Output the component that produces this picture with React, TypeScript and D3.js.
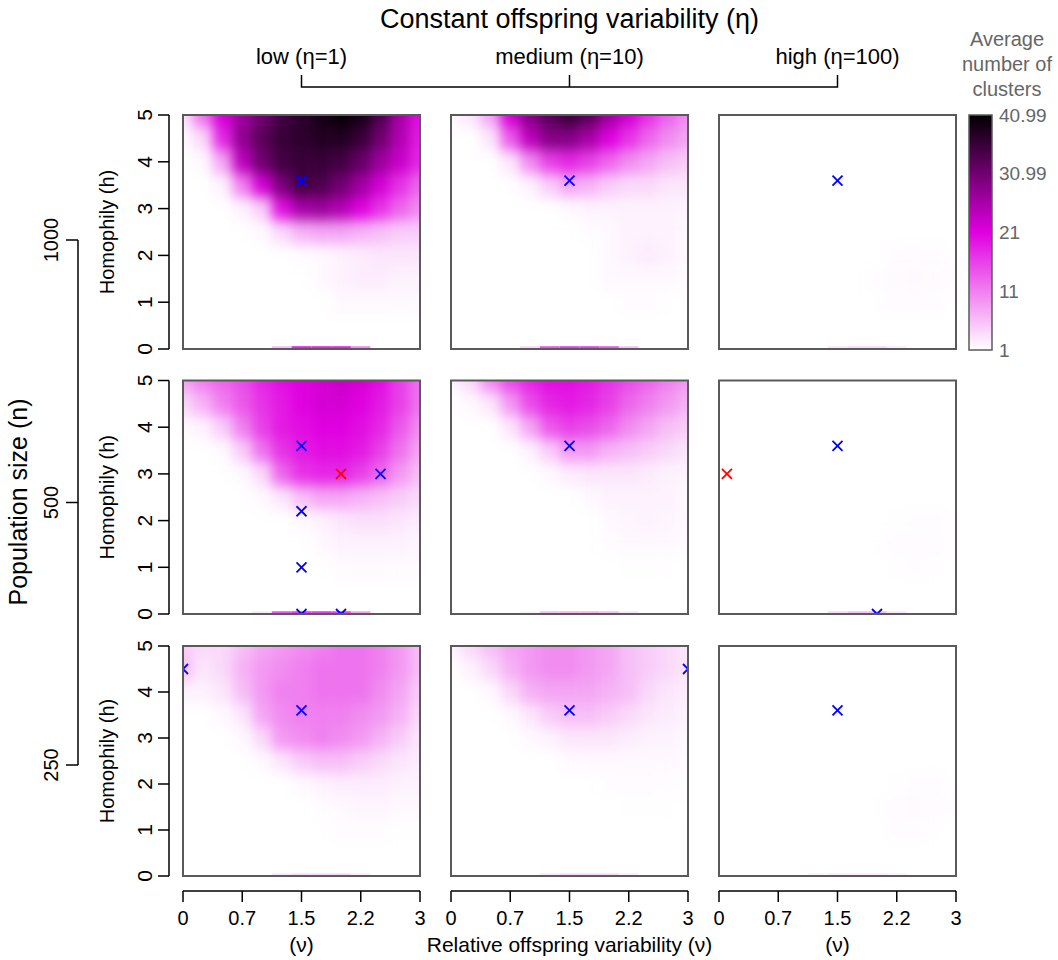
import React from 'react'
import * as d3 from 'd3'

// grid of the simulations (nu across, h down from the top)
const nuGrid = [0, 0.25, 0.5, 0.75, 1, 1.25, 1.5, 1.75, 2, 2.25, 2.5, 2.75, 3]
const hGrid = [5, 4.5, 4, 3.5, 3, 2.5, 2, 1.5, 1, 0.5, 0]

const etaLabels = ['low (\u03b7=1)', 'medium (\u03b7=10)', 'high (\u03b7=100)']
const popLabels = ['1000', '500', '250']
const nuTicks = [0, 0.75, 1.5, 2.25, 3]
const nuTickLabels = ['0', '0.7', '1.5', '2.2', '3']
const hTicks = [0, 1, 2, 3, 4, 5]
const legendTicks = [1, 11, 21, 30.99, 40.99]

// average number of clusters, n = 1000
const n1000eta1 = [
  [3, 12, 22, 27, 31, 35, 37, 39, 40.5, 39, 34, 26, 20],
  [1.5, 4, 18, 28, 33, 36, 37, 38, 38, 36, 31, 25, 19],
  [1, 1.5, 8, 24, 31, 35, 36, 36, 35, 32, 27, 23, 18],
  [1, 1, 2, 11, 22, 30, 35, 34, 31, 27, 22, 17, 13],
  [1, 1, 1, 2, 5, 20, 26, 27, 25, 21, 17, 13, 10],
  [1, 1, 1, 1, 1.5, 4, 7, 8, 8, 7, 6, 5, 5],
  [1, 1, 1, 1, 1, 1, 1.2, 1.5, 2, 2.5, 3, 3, 3],
  [1, 1, 1, 1, 1, 1, 1, 1.5, 2, 2.5, 2.5, 2, 2],
  [1, 1, 1, 1, 1, 1, 1, 1, 1.5, 1.5, 1.5, 1.5, 1.5],
  [1, 1, 1, 1, 1, 1, 1, 1, 1, 1, 1, 1, 1],
  [1, 1, 1, 1, 1, 1, 1, 1, 1, 1, 1, 1, 1],
]
const n1000eta10 = [
  [1.5, 3, 8, 22, 29, 33, 36, 33, 27, 22, 17, 13, 10],
  [1, 1, 3, 14, 24, 29, 29, 26, 21, 17, 13, 10, 8],
  [1, 1, 1, 3, 10, 16, 18, 16, 13, 10, 8, 6, 5],
  [1, 1, 1, 1, 2, 5, 8, 7, 5, 4, 4, 3, 3],
  [1, 1, 1, 1, 1, 1, 1.5, 2, 2, 2, 2, 2, 2],
  [1, 1, 1, 1, 1, 1, 1, 1.2, 1.5, 2, 2, 2, 1.5],
  [1, 1, 1, 1, 1, 1, 1, 1, 1.5, 2, 2.5, 2, 1.5],
  [1, 1, 1, 1, 1, 1, 1, 1, 1.5, 1.5, 1.5, 1.5, 1.3],
  [1, 1, 1, 1, 1, 1, 1, 1, 1, 1.2, 1.2, 1.1, 1],
  [1, 1, 1, 1, 1, 1, 1, 1, 1, 1, 1, 1, 1],
  [1, 1, 1, 1, 1, 1, 1, 1, 1, 1, 1, 1, 1],
]
const n1000eta100 = [
  [1, 1, 1, 1, 1, 1, 1, 1, 1, 1, 1, 1, 1],
  [1, 1, 1, 1, 1, 1, 1, 1, 1, 1, 1, 1, 1],
  [1, 1, 1, 1, 1, 1, 1, 1, 1, 1, 1, 1, 1],
  [1, 1, 1, 1, 1, 1, 1, 1, 1, 1, 1, 1, 1],
  [1, 1, 1, 1, 1, 1, 1, 1, 1, 1, 1, 1, 1],
  [1, 1, 1, 1, 1, 1, 1, 1, 1, 1, 1, 1, 1],
  [1, 1, 1, 1, 1, 1, 1, 1, 1, 1.2, 1.3, 1.2, 1.1],
  [1, 1, 1, 1, 1, 1, 1, 1, 1.2, 1.4, 1.5, 1.4, 1.2],
  [1, 1, 1, 1, 1, 1, 1, 1, 1.1, 1.3, 1.3, 1.2, 1],
  [1, 1, 1, 1, 1, 1, 1, 1, 1, 1, 1, 1, 1],
  [1, 1, 1, 1, 1, 1, 1, 1, 1, 1, 1, 1, 1],
]

// n = 500
const n500eta1 = [
  [8, 11, 13, 15, 18, 20, 21, 22, 23, 22, 20, 16, 12],
  [4, 7, 11, 14, 17, 19, 21, 22, 22, 21, 19, 16, 12],
  [1.5, 2, 5, 11, 16, 19, 20, 21, 21, 20, 18, 14, 10],
  [1, 1, 1.5, 5, 12, 17, 19, 20, 20, 19, 16, 12, 8],
  [1, 1, 1, 1.5, 4, 13, 17, 18, 18, 16, 13, 9, 6],
  [1, 1, 1, 1, 1.5, 3, 6, 8, 8, 7, 6, 5, 4],
  [1, 1, 1, 1, 1, 1, 1.5, 2, 3, 3.5, 3.5, 3, 2.5],
  [1, 1, 1, 1, 1, 1, 1, 1.5, 2, 2, 2, 2, 1.8],
  [1, 1, 1, 1, 1, 1, 1, 1, 1.3, 1.4, 1.4, 1.3, 1.3],
  [1, 1, 1, 1, 1, 1, 1, 1, 1, 1, 1, 1, 1],
  [1, 1, 1, 1, 1, 1, 1, 1, 1, 1, 1, 1, 1],
]
const n500eta10 = [
  [2, 4, 10, 15, 18, 20, 20, 19, 17, 15, 13, 11, 9],
  [1, 1.5, 3, 9, 15, 18, 19, 18, 16, 13, 11, 9, 7],
  [1, 1, 1, 3, 8, 14, 16, 15, 13, 10, 8, 6, 5],
  [1, 1, 1, 1, 2, 5, 9, 9, 7, 6, 5, 4, 3],
  [1, 1, 1, 1, 1, 1.5, 2.5, 3, 3, 3, 2.5, 2, 2],
  [1, 1, 1, 1, 1, 1, 1, 1.5, 2, 2, 2, 2, 1.5],
  [1, 1, 1, 1, 1, 1, 1, 1, 1.5, 1.8, 2, 1.8, 1.5],
  [1, 1, 1, 1, 1, 1, 1, 1, 1.2, 1.5, 1.5, 1.5, 1.3],
  [1, 1, 1, 1, 1, 1, 1, 1, 1, 1.1, 1.1, 1.1, 1],
  [1, 1, 1, 1, 1, 1, 1, 1, 1, 1, 1, 1, 1],
  [1, 1, 1, 1, 1, 1, 1, 1, 1, 1, 1, 1, 1],
]
const n500eta100 = [
  [1, 1, 1, 1, 1, 1, 1, 1, 1, 1, 1, 1, 1],
  [1, 1, 1, 1, 1, 1, 1, 1, 1, 1, 1, 1, 1],
  [1, 1, 1, 1, 1, 1, 1, 1, 1, 1, 1, 1, 1],
  [1, 1, 1, 1, 1, 1, 1, 1, 1, 1, 1, 1, 1],
  [1, 1, 1, 1, 1, 1, 1, 1, 1, 1, 1, 1, 1],
  [1, 1, 1, 1, 1, 1, 1, 1, 1, 1, 1, 1, 1],
  [1, 1, 1, 1, 1, 1, 1, 1, 1, 1.1, 1.2, 1.2, 1.1],
  [1, 1, 1, 1, 1, 1, 1, 1, 1.1, 1.3, 1.3, 1.3, 1.1],
  [1, 1, 1, 1, 1, 1, 1, 1, 1, 1.1, 1.2, 1.1, 1],
  [1, 1, 1, 1, 1, 1, 1, 1, 1, 1, 1, 1, 1],
  [1, 1, 1, 1, 1, 1, 1, 1, 1, 1, 1, 1, 1],
]

// n = 250
const n250eta1 = [
  [5, 4, 4, 6, 8, 9, 10, 11, 12, 12, 11, 9, 6],
  [6, 3, 4, 7, 9, 10, 11, 12, 12, 12, 11, 9, 6],
  [2, 2, 3, 6, 9, 11, 11, 12, 12, 12, 10, 8, 5],
  [1, 1, 1.5, 3, 8, 10, 11, 11, 11, 10, 9, 7, 4],
  [1, 1, 1, 1.5, 4, 9, 10, 11, 10, 9, 7, 5, 3],
  [1, 1, 1, 1, 1.5, 3, 5, 6, 6, 5, 4, 3, 2.5],
  [1, 1, 1, 1, 1, 1, 1.5, 2, 2.5, 2.5, 2.5, 2, 2],
  [1, 1, 1, 1, 1, 1, 1, 1.2, 1.5, 1.8, 1.8, 1.5, 1.5],
  [1, 1, 1, 1, 1, 1, 1, 1, 1.2, 1.2, 1.2, 1.1, 1.1],
  [1, 1, 1, 1, 1, 1, 1, 1, 1, 1, 1, 1, 1],
  [1, 1, 1, 1, 1, 1, 1, 1, 1, 1, 1, 1, 1],
]
const n250eta10 = [
  [2, 4, 6, 8, 9, 10, 10, 9, 8, 6, 5, 4, 3],
  [1, 2, 4, 7, 9, 10, 10, 9, 8, 6, 5, 4, 3],
  [1, 1, 1.5, 4, 7, 8, 8, 8, 7, 6, 4, 3, 2.5],
  [1, 1, 1, 1.5, 3, 5, 6, 6, 5, 4, 3, 2.5, 2],
  [1, 1, 1, 1, 1.5, 2, 3, 3, 3, 2.5, 2, 2, 1.5],
  [1, 1, 1, 1, 1, 1, 1.3, 1.5, 1.5, 1.5, 1.5, 1.5, 1.3],
  [1, 1, 1, 1, 1, 1, 1, 1, 1.2, 1.3, 1.3, 1.2, 1.2],
  [1, 1, 1, 1, 1, 1, 1, 1, 1, 1.1, 1.1, 1.1, 1],
  [1, 1, 1, 1, 1, 1, 1, 1, 1, 1, 1, 1, 1],
  [1, 1, 1, 1, 1, 1, 1, 1, 1, 1, 1, 1, 1],
  [1, 1, 1, 1, 1, 1, 1, 1, 1, 1, 1, 1, 1],
]
const n250eta100 = [
  [1, 1, 1, 1, 1, 1, 1, 1, 1, 1, 1, 1, 1],
  [1, 1, 1, 1, 1, 1, 1, 1, 1, 1, 1, 1, 1],
  [1, 1, 1, 1, 1, 1, 1, 1, 1, 1, 1, 1, 1],
  [1, 1, 1, 1, 1, 1, 1, 1, 1, 1, 1, 1, 1],
  [1, 1, 1, 1, 1, 1, 1, 1, 1, 1, 1, 1, 1],
  [1, 1, 1, 1, 1, 1, 1, 1, 1, 1, 1, 1, 1],
  [1, 1, 1, 1, 1, 1, 1, 1, 1, 1.1, 1.2, 1.2, 1.1],
  [1, 1, 1, 1, 1, 1, 1, 1, 1.1, 1.3, 1.4, 1.3, 1.2],
  [1, 1, 1, 1, 1, 1, 1, 1, 1, 1.2, 1.2, 1.1, 1],
  [1, 1, 1, 1, 1, 1, 1, 1, 1, 1, 1, 1, 1],
  [1, 1, 1, 1, 1, 1, 1, 1, 1, 1, 1, 1, 1],
]

// values at exactly h = 0 (thin strip along the bottom edge)
const floorN1000 = [
  [1, 1, 1, 1, 1, 6, 18, 18, 18, 10, 1, 1, 1],
  [1, 1, 1, 1, 4, 14, 16, 16, 14, 6, 1, 1, 1],
  [1, 1, 1, 1, 1, 1, 3, 4, 4, 2.5, 1, 1, 1],
]
const floorN500 = [
  [1, 1, 1, 1, 3, 14, 16, 16, 15, 8, 1, 1, 1],
  [1, 1, 1, 1, 2, 6, 7, 7, 6, 3, 1, 1, 1],
  [1, 1, 1, 1, 1, 1, 4, 6, 6, 3, 1, 1, 1],
]
const floorN250 = [
  [1, 1, 1, 1, 1, 3, 4, 4, 4, 2.5, 1, 1, 1],
  [1, 1, 1, 1, 1, 3, 4, 4, 4, 2.5, 1, 1, 1],
  [1, 1, 1, 1, 1, 2, 2.5, 2.5, 2.5, 2, 1, 1, 1],
]

// [row, col, nu, h]
const blueMarks = [
  [0, 0, 1.5, 3.6], [0, 1, 1.5, 3.6], [0, 2, 1.5, 3.6],
  [1, 0, 1.5, 3.6], [1, 0, 2.5, 3], [1, 0, 1.5, 2.2], [1, 0, 1.5, 1], [1, 0, 1.5, 0], [1, 0, 2, 0],
  [1, 1, 1.5, 3.6], [1, 2, 1.5, 3.6], [1, 2, 2, 0],
  [2, 0, 1.5, 3.6], [2, 0, 0, 4.5], [2, 1, 1.5, 3.6], [2, 1, 3, 4.5], [2, 2, 1.5, 3.6],
]
const redMarks = [
  [1, 0, 2, 3], [1, 2, 0.1, 3],
]

const grids = [
  [n1000eta1, n1000eta10, n1000eta100],
  [n500eta1, n500eta10, n500eta100],
  [n250eta1, n250eta10, n250eta100],
]
const floors = [floorN1000, floorN500, floorN250]

const colX = [183, 451, 719]
const panelW = 237
const rowTop = [115, 380.5, 646]
const rowBottom = [349, 614, 876]
const FONT = "'Liberation Sans', Arial, sans-serif"

const color = d3
  .scaleLinear<string>()
  .domain([1, 21, 40.99])
  .range(['#ffffff', '#e000e0', '#000000'])
  .interpolate(d3.interpolateRgb)
  .clamp(true)

function Panel({ r, c }: { r: number; c: number }) {
  const x = d3.scaleLinear().domain([0, 3]).range([colX[c], colX[c] + panelW])
  const y = d3.scaleLinear().domain([0, 5]).range([rowBottom[r], rowTop[r]])
  const grid = grids[r][c]
  const floor = floors[r][c]
  const id = `p${r}${c}`
  const ext = 30

  const xEdge = (j: number, side: number) => {
    if (side < 0) return j === 0 ? x(nuGrid[0]) - ext : (x(nuGrid[j - 1]) + x(nuGrid[j])) / 2
    return j === nuGrid.length - 1 ? x(nuGrid[j]) + ext : (x(nuGrid[j]) + x(nuGrid[j + 1])) / 2
  }
  const yEdge = (i: number, side: number) => {
    if (side < 0) return i === 0 ? y(hGrid[0]) - ext : (y(hGrid[i - 1]) + y(hGrid[i])) / 2
    return i === hGrid.length - 1 ? y(hGrid[i]) + ext : (y(hGrid[i]) + y(hGrid[i + 1])) / 2
  }

  const cross = (m: number[], stroke: string, k: number) => {
    const cx = x(m[2])
    const cy = y(m[3])
    return (
      <path
        key={k}
        d={`M${cx - 5},${cy - 5}L${cx + 5},${cy + 5}M${cx - 5},${cy + 5}L${cx + 5},${cy - 5}`}
        stroke={stroke}
        strokeWidth={1.8}
        fill="none"
      />
    )
  }

  return (
    <g>
      <clipPath id={`clip-${id}`}>
        <rect x={colX[c]} y={rowTop[r]} width={panelW} height={rowBottom[r] - rowTop[r]} />
      </clipPath>
      <g clipPath={`url(#clip-${id})`}>
        <g filter="url(#soft)">
          {grid.map((row, i) =>
            row.map((v, j) => {
              const x0 = xEdge(j, -1)
              const x1 = xEdge(j, 1)
              const y0 = yEdge(i, -1)
              const y1 = yEdge(i, 1)
              return (
                <rect
                  key={`${i}-${j}`}
                  x={x0}
                  y={y0}
                  width={x1 - x0 + 0.5}
                  height={y1 - y0 + 0.5}
                  fill={color(v)}
                />
              )
            }),
          )}
        </g>
        {floor.map((v, j) => {
          const x0 = xEdge(j, -1)
          const x1 = xEdge(j, 1)
          return (
            <rect
              key={`f${j}`}
              x={x0}
              y={y(0.06)}
              width={x1 - x0}
              height={y(0) - y(0.06)}
              fill={color(v)}
            />
          )
        })}
        {blueMarks.filter((m) => m[0] === r && m[1] === c).map((m, k) => cross(m, '#0000ff', k))}
        {redMarks.filter((m) => m[0] === r && m[1] === c).map((m, k) => cross(m, '#ff0000', 100 + k))}
      </g>
      <rect
        x={colX[c]}
        y={rowTop[r]}
        width={panelW}
        height={rowBottom[r] - rowTop[r]}
        fill="none"
        stroke="#5a5a5a"
        strokeWidth={2}
      />
    </g>
  )
}

function YAxis({ r }: { r: number }) {
  const y = d3.scaleLinear().domain([0, 5]).range([rowBottom[r], rowTop[r]])
  const ax = 169
  const mid = (rowTop[r] + rowBottom[r]) / 2
  return (
    <g fill="#000">
      <line x1={ax} x2={ax} y1={y(0)} y2={y(5)} stroke="#000" strokeWidth={1.5} />
      {hTicks.map((t) => (
        <g key={t}>
          <line x1={ax - 11} x2={ax} y1={y(t)} y2={y(t)} stroke="#000" strokeWidth={1.5} />
          <text transform={`translate(${ax - 17},${y(t)}) rotate(-90)`} textAnchor="middle" fontSize={21}>
            {t}
          </text>
        </g>
      ))}
      <text transform={`translate(114,${mid}) rotate(-90)`} textAnchor="middle" fontSize={20}>
        Homophily (h)
      </text>
    </g>
  )
}

function XAxis({ c }: { c: number }) {
  const x = d3.scaleLinear().domain([0, 3]).range([colX[c], colX[c] + panelW])
  const ay = 891
  return (
    <g>
      <line x1={x(0)} x2={x(3)} y1={ay} y2={ay} stroke="#000" strokeWidth={1.5} />
      {nuTicks.map((t, i) => (
        <g key={t}>
          <line x1={x(t)} x2={x(t)} y1={ay} y2={ay + 11} stroke="#000" strokeWidth={1.5} />
          <text x={x(t)} y={ay + 34} textAnchor="middle" fontSize={20}>
            {nuTickLabels[i]}
          </text>
        </g>
      ))}
      <text x={x(1.5)} y={ay + 61} textAnchor="middle" fontSize={21}>
        {c === 1 ? 'Relative offspring variability (\u03bd)' : '(\u03bd)'}
      </text>
    </g>
  )
}

export default function App() {
  const colMid = colX.map((x0) => x0 + panelW / 2)
  const popY = d3.scalePoint<string>().domain(popLabels).range([240, 765])
  const leg = d3.scaleLinear().domain([1, 40.99]).range([350, 115])
  const legStops = [1, 6, 11, 16, 21, 26, 31, 36, 40.99]

  return (
    <svg
      width={1058}
      height={960}
      style={{ position: 'absolute', left: 0, top: 0, background: '#fff' }}
      fontFamily={FONT}
    >
      <defs>
        <filter id="soft" x="-20%" y="-20%" width="140%" height="140%" colorInterpolationFilters="sRGB">
          <feGaussianBlur stdDeviation="6 7" />
        </filter>
        <linearGradient id="legend-grad" x1="0" y1="1" x2="0" y2="0">
          {legStops.map((v) => (
            <stop key={v} offset={(v - 1) / 39.99} stopColor={color(v)} />
          ))}
        </linearGradient>
      </defs>
      <rect width={1058} height={960} fill="#fff" />

      {/* top: eta */}
      <text x={colMid[1]} y={28} textAnchor="middle" fontSize={27}>
        {'Constant offspring variability (\u03b7)'}
      </text>
      <path
        d={`M${colMid[0]},75V87H${colMid[2]}V75M${colMid[1]},87V75`}
        stroke="#000"
        strokeWidth={1.5}
        fill="none"
      />
      {etaLabels.map((l, i) => (
        <text key={l} x={colMid[i]} y={64} textAnchor="middle" fontSize={22}>
          {l}
        </text>
      ))}

      {/* left: population size */}
      <text transform="translate(27,502) rotate(-90)" textAnchor="middle" fontSize={25}>
        Population size (n)
      </text>
      <line x1={78} x2={78} y1={popY('1000')} y2={popY('250')} stroke="#000" strokeWidth={1.5} />
      {popLabels.map((p) => (
        <g key={p}>
          <line x1={66} x2={78} y1={popY(p)} y2={popY(p)} stroke="#000" strokeWidth={1.5} />
          <text transform={`translate(58,${popY(p)}) rotate(-90)`} textAnchor="middle" fontSize={20}>
            {p}
          </text>
        </g>
      ))}

      {[0, 1, 2].map((r) => (
        <YAxis key={r} r={r} />
      ))}
      {[0, 1, 2].map((c) => (
        <XAxis key={c} c={c} />
      ))}
      {[0, 1, 2].map((r) => [0, 1, 2].map((c) => <Panel key={`${r}${c}`} r={r} c={c} />))}

      {/* colour key */}
      <g fill="#666" fontSize={20} textAnchor="middle">
        <text x={1007} y={46}>Average</text>
        <text x={1007} y={71}>number of</text>
        <text x={1007} y={96}>clusters</text>
      </g>
      <rect x={969} y={115} width={23} height={235} fill="url(#legend-grad)" stroke="#5a5a5a" strokeWidth={1.5} />
      {legendTicks.map((t) => (
        <text key={t} x={999} y={leg(t)} dy="0.35em" fontSize={19} fill="#666">
          {t}
        </text>
      ))}
    </svg>
  )
}
